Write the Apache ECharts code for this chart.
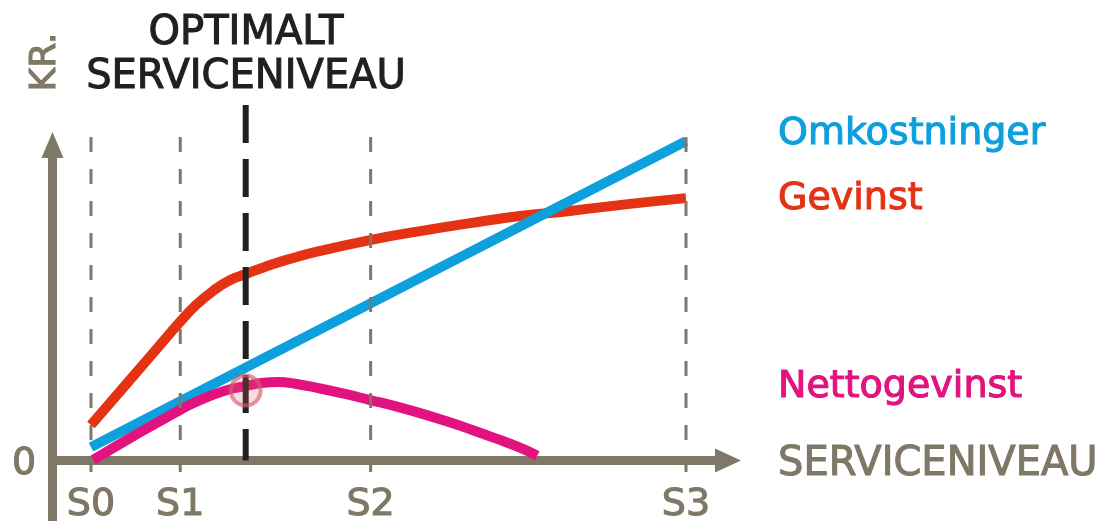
<!DOCTYPE html>
<html>
<head>
<meta charset="utf-8">
<script src="https://cdn.jsdelivr.net/npm/echarts@6/dist/echarts.min.js"></script>
<style>
  html, body { margin: 0; padding: 0; background: #fff; }
  #chart { width: 1104px; height: 521px; }
</style>
</head>
<body>
<div id="chart"></div>
<script>
// serviceniveau på x (S0 = 0, S3 = 100), kr. på y
const sLabels = ['S0', 'S1', 'S2', 'S3'];
const sLevels = [0, 15, 47, 100];
const optimalLevel = 26;

const omkostninger = [[0, 4.2], [100, 99.8]];
const gevinst = [
  [0, 11.1], [6.55, 25.2], [11.6, 36.1], [14.96, 43.3], [17.5, 48.3], [20.5, 53.0],
  [23.4, 56.4], [26.05, 58.3], [29.2, 60.5], [33.4, 63.0], [38.5, 65.5], [46.9, 68.9],
  [55.3, 71.7], [63.7, 74.2], [72.1, 76.4], [80.5, 78.0], [90.6, 80.2], [100, 82.0]
];
const nettogevinst = [
  [0.34, 0.16], [6.55, 7.0], [11.6, 12.3], [14.96, 15.8], [18.3, 18.9], [22.5, 21.8],
  [26.05, 23.3], [28.7, 24.2], [31.4, 24.5], [34.3, 24.0], [38.5, 22.5], [42.7, 20.8],
  [46.9, 18.9], [51.1, 17.0], [55.3, 14.8], [59.5, 12.4], [63.7, 9.8], [67.9, 7.0],
  [72.1, 4.0], [75, 1.5]
];
const optimum = [26, 21.9];

const guideTop = 101.1;
const guideBottom = -7.3;
const optimalTop = 111.1;
const tickLabelY = -13.9;

const GRAY = '#7f7866';
const BLACK = '#231f20';
const FONT = 'DejaVu Sans';

const chart = echarts.init(document.getElementById('chart'));

const guides = sLevels.map(x => ({
  type: 'line',
  data: [[x, guideTop], [x, guideBottom]],
  symbol: 'none',
  silent: true,
  clip: false,
  z: 3,
  lineStyle: { color: GRAY, width: 3, type: [15, 17] }
}));

// tekst lidt federe, som i originalen
const txt = (x, y, text, fill, size, align, extra) => Object.assign({
  type: 'text', x: x, y: y,
  style: {
    text: text, fill: fill, fontFamily: FONT, fontSize: size,
    align: align, verticalAlign: 'middle',
    stroke: fill, lineWidth: 1.1
  }
}, extra || {});

chart.setOption({
  animation: false,
  grid: { left: 52.5, right: 376, top: 145, bottom: 0 },
  xAxis: {
    type: 'value',
    min: -6.47,
    max: 107.06,
    axisLine: {
      onZero: true,
      symbol: ['none', 'triangle'],
      symbolSize: [24, 26],
      lineStyle: { color: GRAY, width: 9 }
    },
    axisTick: { show: false },
    axisLabel: { show: false },
    splitLine: { show: false }
  },
  yAxis: {
    type: 'value',
    min: -18.9,
    max: 98.6,
    axisLine: {
      show: true,
      onZero: false,
      symbol: ['none', 'triangle'],
      symbolSize: [22, 26],
      lineStyle: { color: GRAY, width: 9 }
    },
    axisTick: { show: false },
    axisLabel: { show: false },
    splitLine: { show: false }
  },
  series: [
    {
      name: 'Gevinst',
      type: 'line',
      data: gevinst,
      smooth: 0.5,
      symbol: 'none',
      clip: false,
      z: 2,
      lineStyle: { color: '#e43215', width: 10 }
    },
    {
      name: 'Omkostninger',
      type: 'line',
      data: omkostninger,
      symbol: 'none',
      clip: false,
      z: 2,
      lineStyle: { color: '#0ea0dd', width: 10 }
    },
    {
      name: 'Nettogevinst',
      type: 'line',
      data: nettogevinst,
      smooth: 0.5,
      symbol: 'none',
      clip: false,
      z: 2,
      lineStyle: { color: '#e2127f', width: 10 }
    },
    ...guides,
    {
      type: 'line',
      data: [[optimalLevel, optimalTop], [optimalLevel, 0]],
      symbol: 'none',
      silent: true,
      clip: false,
      z: 4,
      lineStyle: { color: BLACK, width: 6, type: [38, 16] }
    },
    {
      type: 'scatter',
      data: [optimum],
      symbolSize: 30,
      clip: false,
      z: 5,
      itemStyle: {
        opacity: 1,
        color: 'rgba(220,100,112,0.22)',
        borderColor: 'rgba(214,96,108,0.65)',
        borderWidth: 4
      }
    },
    {
      type: 'scatter',
      data: sLevels.map((x, i) => ({ value: [x, tickLabelY], name: sLabels[i] })),
      symbolSize: 0,
      clip: false,
      z: 5,
      itemStyle: { opacity: 1 },
      label: {
        show: true,
        position: 'inside',
        formatter: p => p.name,
        color: GRAY,
        fontFamily: FONT,
        fontSize: 38,
        textBorderColor: GRAY,
        textBorderWidth: 1.1
      }
    }
  ],
  graphic: [
    txt(246, 34, 'OPTIMALT', BLACK, 40, 'center'),
    txt(246, 78, 'SERVICENIVEAU', BLACK, 40, 'center'),
    txt(46, 62, 'KR.', GRAY, 36, 'center', { rotation: Math.PI / 2 }),
    txt(24, 464, '0', GRAY, 38, 'center'),
    txt(778, 465, 'SERVICENIVEAU', GRAY, 40, 'left'),
    txt(778, 134, 'Omkostninger', '#0ea0dd', 38, 'left'),
    txt(778, 199, 'Gevinst', '#e43215', 38, 'left'),
    txt(778, 387, 'Nettogevinst', '#e2127f', 38, 'left')
  ]
});
</script>
</body>
</html>
